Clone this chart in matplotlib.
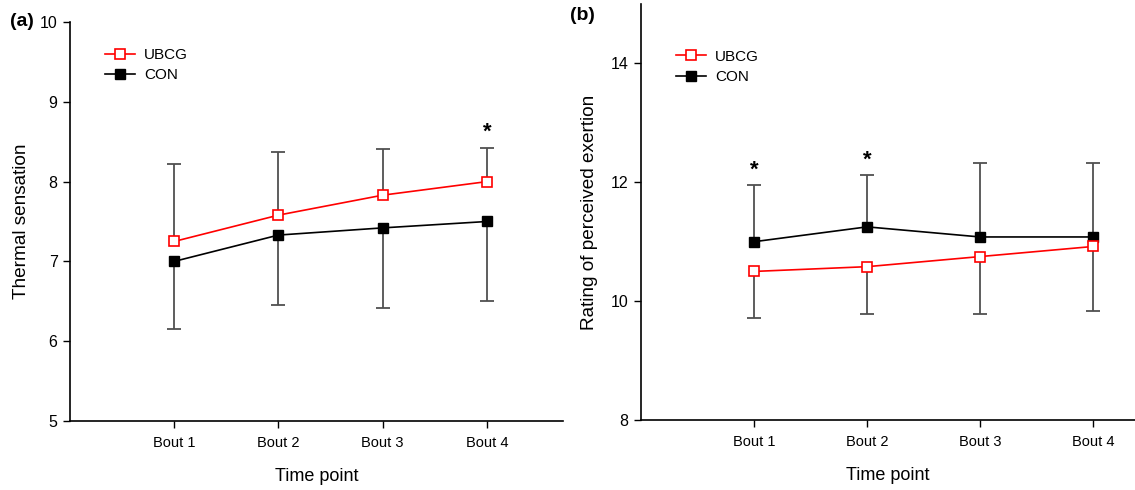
import matplotlib
matplotlib.use("Agg")
import matplotlib.pyplot as plt
import numpy as np

plt.rcParams['font.family'] = ['Liberation Sans', 'DejaVu Sans']

bouts = ["Bout 1", "Bout 2", "Bout 3", "Bout 4"]

# Panel (a): Thermal sensation
ts_ubcg = [7.25, 7.58, 7.83, 8.00]
ts_ubcg_sd = [0.97, 0.79, 0.58, 0.42]
ts_con = [7.00, 7.33, 7.42, 7.50]
ts_con_sd = [0.85, 0.88, 1.00, 1.00]
ts_sig = [False, False, False, True]

# Panel (b): Rating of perceived exertion
rpe_ubcg = [10.50, 10.58, 10.75, 10.92]
rpe_ubcg_sd = [0.79, 0.79, 0.96, 1.08]
rpe_con = [11.00, 11.25, 11.08, 11.08]
rpe_con_sd = [0.95, 0.87, 1.24, 1.24]
rpe_sig = [True, True, False, False]

W, H = 1135, 490
fig = plt.figure(figsize=(W / 100, H / 100), dpi=100)

def px_axes(l, t, r, b):
    return fig.add_axes([l / W, 1 - b / H, (r - l) / W, (b - t) / H])

ax1 = px_axes(70, 22, 563, 421)
ax2 = px_axes(641, 4, 1135, 420)

x = np.arange(1, 5)
ecol = '#505050'

def one_sided(ax, mean, sd, up):
    mean = np.array(mean)
    sd = np.array(sd)
    end = mean + sd if up else mean - sd
    ax.vlines(x, mean, end, colors=ecol, lw=1.3, zorder=2)
    ax.plot(x, end, ls='none', marker='_', ms=10.5, mew=1.3, color=ecol,
            zorder=2)

def draw(ax, ubcg, ubcg_sd, con, con_sd, ubcg_up, sig, star_off):
    one_sided(ax, ubcg, ubcg_sd, ubcg_up)
    one_sided(ax, con, con_sd, not ubcg_up)
    ax.plot(x, ubcg, color='red', lw=1.2, marker='s', ms=6.8, mfc='white',
            mec='red', mew=1.2, label='UBCG', zorder=4)
    ax.plot(x, con, color='black', lw=1.2, marker='s', ms=6.8, mfc='black',
            mec='black', label='CON', zorder=3)
    top_u = np.array(ubcg) + (np.array(ubcg_sd) if ubcg_up else 0)
    top_c = np.array(con) + (0 if ubcg_up else np.array(con_sd))
    tops = np.maximum(top_u, top_c)
    for xi, s, tp in zip(x, sig, tops):
        if s:
            ax.text(xi, tp + star_off, '*', ha='center', va='center',
                    fontsize=16, fontweight='bold')

draw(ax1, ts_ubcg, ts_ubcg_sd, ts_con, ts_con_sd, True, ts_sig, 0.20)
draw(ax2, rpe_ubcg, rpe_ubcg_sd, rpe_con, rpe_con_sd, False, rpe_sig, 0.25)

ax1.set_ylim(5, 10)
ax1.set_yticks([5, 6, 7, 8, 9, 10])
ax1.set_xlim(0, 4.73)
ax2.set_ylim(8, 15)
ax2.set_yticks([8, 10, 12, 14])
ax2.set_xlim(0, 4.37)

for ax in (ax1, ax2):
    ax.set_xticks(x)
    ax.set_xticklabels(bouts)
    ax.spines['top'].set_visible(False)
    ax.spines['right'].set_visible(False)
    for sp in ('left', 'bottom'):
        ax.spines[sp].set_linewidth(1.2)
    ax.tick_params(axis='both', direction='out', length=5, width=1,
                   labelsize=11.5, pad=4)
    ax.tick_params(axis='x', labelsize=10.5, pad=6)
    ax.set_xlabel('Time point', fontsize=13, labelpad=13)

ax1.set_ylabel('Thermal sensation', fontsize=13.7, labelpad=7)
ax2.set_ylabel('Rating of perceived exertion', fontsize=13.7, labelpad=9)

leg_kw = dict(loc='upper left', frameon=False, fontsize=11, handlelength=2.0,
              handletextpad=0.6, labelspacing=0.42, borderpad=0,
              borderaxespad=0)
ax1.legend(bbox_to_anchor=(0.07, 0.935), **leg_kw)
ax2.legend(bbox_to_anchor=(0.07, 0.89), **leg_kw)

fig.text(10 / W, 1 - 22 / H, '(a)', fontsize=14, fontweight='bold',
         ha='left', va='center')
fig.text(570 / W, 1 - 15 / H, '(b)', fontsize=14, fontweight='bold',
         ha='left', va='center')

fig.savefig('out.png', dpi=100)
